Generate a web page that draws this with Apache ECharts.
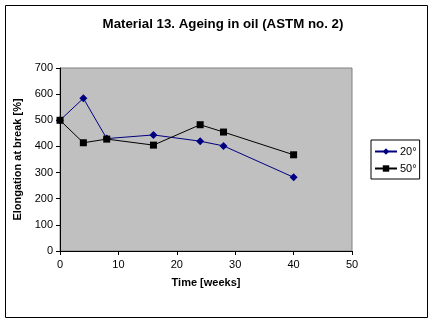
<!DOCTYPE html>
<html><head><meta charset="utf-8">
<script src="https://cdn.jsdelivr.net/npm/echarts@6/dist/echarts.min.js"></script>
<style>html,body{margin:0;padding:0;background:#fff}#c{width:435px;height:325px}</style>
</head><body><div id="c"></div>
<script>
const weeks = [0, 4, 8, 16, 24, 28, 40];
const s20 = [500, 584, 430, 444, 420, 402, 282];
const s50 = [500, 414, 428, 405, 483, 455, 368];
const seriesNames = ['20°', '50°'];
const titleText = 'Material 13. Ageing in oil (ASTM no. 2)';
const xName = 'Time [weeks]';
const yName = 'Elongation at break [%]';

const F = 'Liberation Sans, Arial, sans-serif';
const chart = echarts.init(document.getElementById('c'));
chart.setOption({
  animation: false,
  backgroundColor: '#fff',
  graphic: [{type:'rect', shape:{x:5.5,y:5.5,width:422,height:312}, style:{fill:'none',stroke:'#000',lineWidth:1}}],
  title: {text: titleText, left: 218, top: 13, textAlign: 'center',
    textStyle:{fontFamily:F, fontSize:13.3, fontWeight:'bold', color:'#000'}},
  grid: {left: 60, top: 68, width: 292, height: 183, show: true, backgroundColor:'#c0c0c0', borderColor:'#808080', borderWidth:1},
  legend: {orient:'vertical', left: 371, top: 140, itemGap: 6, padding:[6,3,5,3],
    borderColor:'#000', borderWidth:1, itemWidth: 22, itemHeight: 8,
    textStyle:{fontFamily:F, fontSize:11, color:'#000', padding:[0,0,0,-2]}, data: seriesNames},
  xAxis: {type:'value', min:0, max:50, interval:10, name:xName, nameLocation:'middle', nameGap:26,
    nameTextStyle:{fontFamily:F, fontSize:11, fontWeight:'bold', color:'#000'},
    axisLine:{lineStyle:{color:'#000'}}, axisTick:{lineStyle:{color:'#000'}, length:4},
    axisLabel:{fontFamily:F, fontSize:11, color:'#000', margin:8}, splitLine:{show:false}},
  yAxis: {type:'value', min:0, max:700, interval:100, name:yName, nameLocation:'middle', nameGap:35,
    nameTextStyle:{fontFamily:F, fontSize:11, fontWeight:'bold', color:'#000'},
    axisLine:{show:true, lineStyle:{color:'#000'}}, axisTick:{show:true, lineStyle:{color:'#000'}, length:4},
    axisLabel:{fontFamily:F, fontSize:11, color:'#000', margin:7}, splitLine:{show:false}},
  series: [
    {name: seriesNames[0], type:'line', data: weeks.map((w,i)=>[w, s20[i]]), symbol:'diamond', symbolSize:8,
      lineStyle:{color:'#000080', width:1}, itemStyle:{color:'#000080'}},
    {name: seriesNames[1], type:'line', data: weeks.map((w,i)=>[w, s50[i]]), symbol:'rect', symbolSize:7,
      lineStyle:{color:'#000', width:1}, itemStyle:{color:'#000'}}
  ]
});
</script></body></html>
